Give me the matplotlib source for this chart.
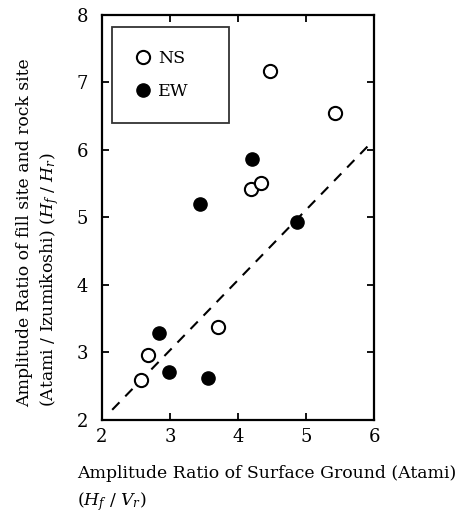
import matplotlib
matplotlib.use("Agg")
import matplotlib.pyplot as plt

# surface amplification at Atami vs. fill/rock amplitude ratio
ns_x = [4.47, 5.43, 4.19, 4.34, 3.71, 2.68, 2.57]
ns_y = [7.17, 6.55, 5.42, 5.51, 3.38, 2.96, 2.59]
ew_x = [4.20, 3.44, 4.86, 2.84, 2.99, 3.56]
ew_y = [5.86, 5.20, 4.93, 3.29, 2.71, 2.62]

# trend line
line_x = [2.15, 5.95]
line_y = [2.15, 6.10]

xticks = [2, 3, 4, 5, 6]
yticks = [2, 3, 4, 5, 6, 7, 8]

plt.rcParams['font.family'] = ['DejaVu Serif']
plt.rcParams['mathtext.fontset'] = 'dejavuserif'

fig = plt.figure(figsize=(4.7, 5.14), dpi=100)
ax = fig.add_axes([0.217, 0.183, 0.579, 0.788])

ax.plot(line_x, line_y, color='black', lw=1.5, dashes=(5, 4), zorder=1)
ax.plot(ns_x, ns_y, 'o', ms=9.5, mfc='white', mec='black', mew=1.5,
        ls='none', label='NS', zorder=3)
ax.plot(ew_x, ew_y, 'o', ms=9.5, mfc='black', mec='black',
        ls='none', label='EW', zorder=3)

ax.set_xlim(2, 6)
ax.set_ylim(2, 8)
ax.set_xticks(xticks)
ax.set_yticks(yticks)
ax.tick_params(direction='in', length=5, width=1.3, top=True, right=True,
               labelsize=13)
ax.tick_params(axis='x', pad=6)
ax.tick_params(axis='y', pad=10)
for s in ax.spines.values():
    s.set_linewidth(1.6)

leg = ax.legend(loc='upper left', bbox_to_anchor=(0.035, 0.97, 0.432, 0.0),
                mode='expand', borderaxespad=0, fontsize=12.5, handlelength=1.0,
                handletextpad=0.4, borderpad=1.3, labelspacing=0.95,
                fancybox=False, frameon=True)
leg.get_frame().set_edgecolor('black')
leg.get_frame().set_linewidth(1.3)

# axis titles, drawn as free text so each line can be placed on its own
fig.text(25 / 470, 1 - 407 / 514, 'Amplitude Ratio of fill site and rock site',
         rotation=90, rotation_mode='anchor', ha='left', va='center', fontsize=12.4)
fig.text(50 / 470, 1 - 407 / 514,
         '(Atami / Izumikoshi) ($H_f$ / $H_r$)',
         rotation=90, rotation_mode='anchor', ha='left', va='center', fontsize=12.4)
fig.text(77 / 470, 1 - 473 / 514, 'Amplitude Ratio of Surface Ground (Atami)',
         ha='left', va='center', fontsize=12.4)
fig.text(77 / 470, 1 - 502 / 514, '($H_f$ / $V_r$)',
         ha='left', va='center', fontsize=12.4)

fig.savefig('out.png', dpi=100)
